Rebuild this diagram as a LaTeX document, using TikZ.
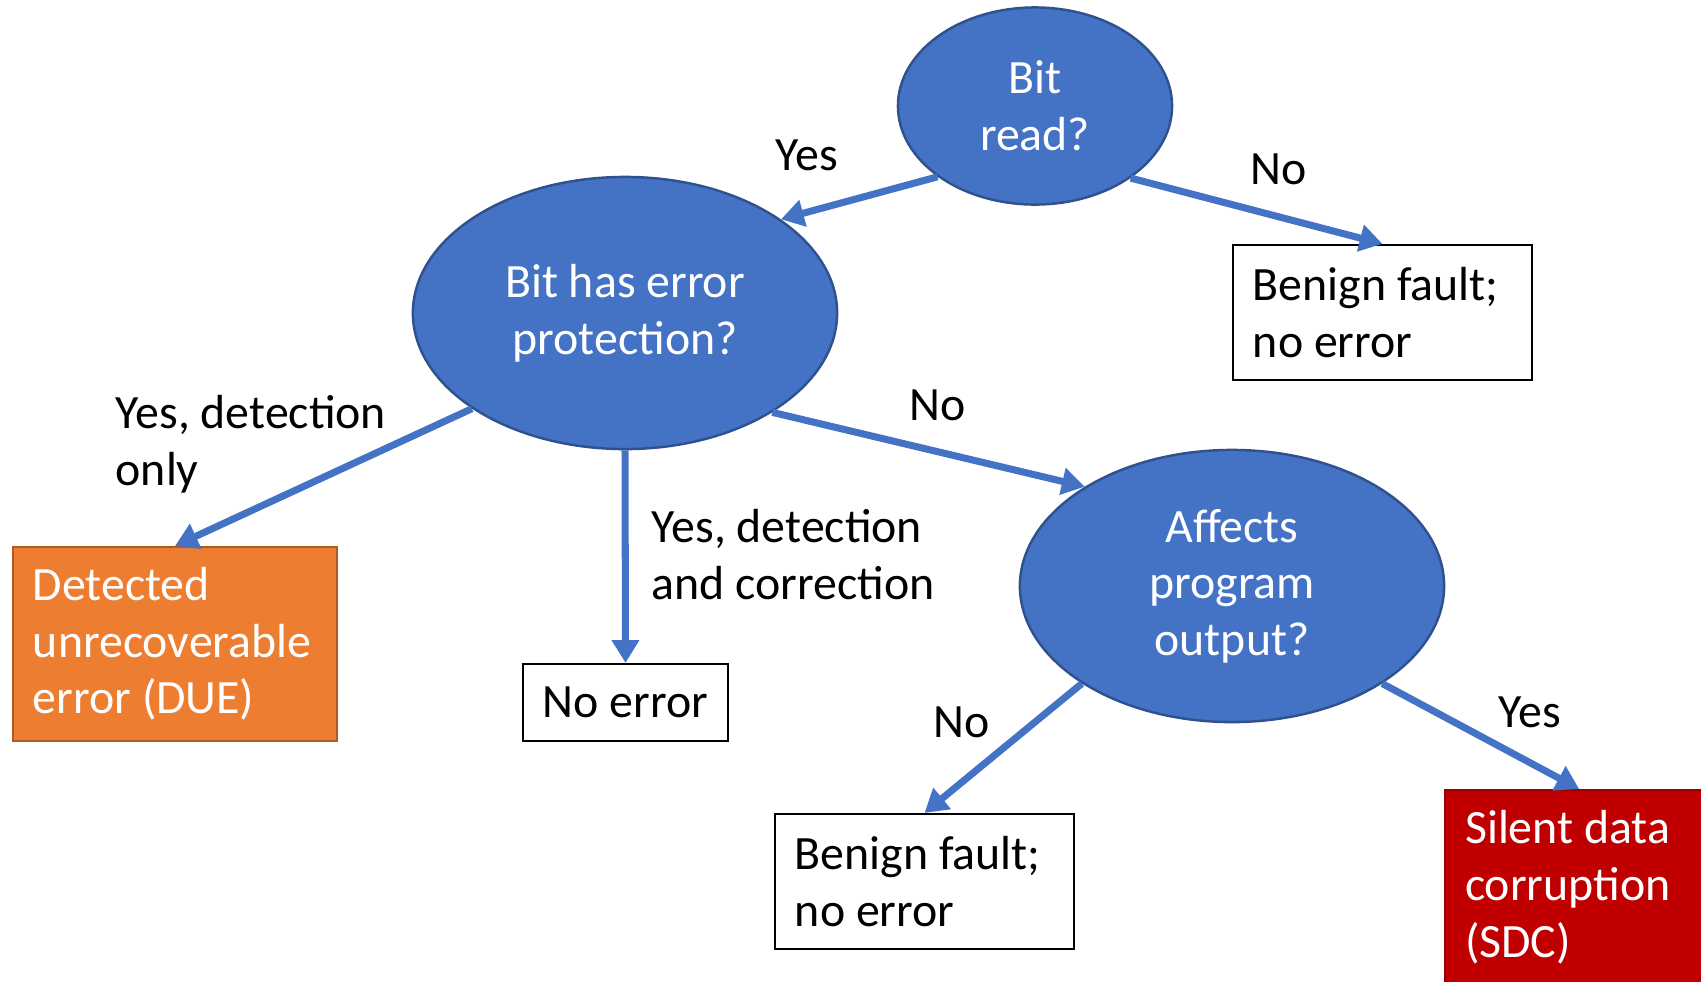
\documentclass[tikz,border=0pt]{standalone}
\usepackage{fontspec}
\setmainfont{Carlito}
\usepackage{tikz}
\usetikzlibrary{arrows.meta,shapes.geometric,positioning}
\definecolor{qblue}{HTML}{4472C4}
\definecolor{qblueline}{HTML}{2F528F}
\definecolor{qorange}{HTML}{ED7D31}
\definecolor{qorangeline}{HTML}{AE5A21}
\definecolor{qred}{HTML}{C00000}
\tikzset{
  every node/.style={font=\fontsize{13.6}{16.1}\selectfont},
  question/.style={ellipse,draw=qblueline,line width=0.7pt,fill=qblue,text=white,align=center,inner sep=0pt},
  outbox/.style={rectangle,draw=black,line width=0.6pt,fill=white,align=flush left,inner sep=0pt},
  colbox/.style={rectangle,line width=0.6pt,text=white,align=flush left,inner sep=0pt,
    minimum width=3.24cm,minimum height=1.94cm,text width=2.84cm},
  flow/.style={qblue,line width=2pt,-{Triangle[length=6.5pt,width=7.5pt]}},
  lab/.style={anchor=base west,align=left,inner sep=0pt}
}
\begin{document}
\begin{tikzpicture}[x=0.01cm,y=-0.01cm]
\useasboundingbox (0,0) rectangle (1701,981);
\clip (0,0) rectangle (1701,981);
% questions
\node[question,minimum width=2.74cm,minimum height=1.97cm] (R) at (1035,106) {Bit\\read?};
\node[question,minimum width=4.24cm,minimum height=2.72cm] (P) at (625,313) {Bit has error\\protection?};
\node[question,minimum width=4.24cm,minimum height=2.72cm] (A) at (1232,586) {Affects\\program\\output?};
% outcomes
\node[outbox,minimum width=2.99cm,minimum height=1.35cm,text width=2.59cm] (B1) at (1382.5,312.5) {Benign fault;\\no error};
\node[outbox,minimum width=2.05cm,minimum height=0.77cm,align=center] (N) at (625.5,702.5) {No error};
\node[outbox,minimum width=2.99cm,minimum height=1.35cm,text width=2.59cm] (B2) at (924.5,881.5) {Benign fault;\\no error};
\node[colbox,fill=qorange,draw=qorangeline] (D) at (175,644) {Detected\\unrecoverable\\error (DUE)};
\node[colbox,fill=qred,draw=qred!80!black,anchor=north west,minimum width=2.68cm,text width=2.28cm] (S) at (1444,789) {Silent data\\corruption\\(SDC)};
% connectors
\draw[flow] (R.216.8) -- (P.31.8);
\draw[flow] (R.323.8) -- (B1.north);
\draw[flow] (P.212.9) -- (D.north);
\draw[flow] (P.south) -- (N.north);
\draw[flow] (P.326.6) -- (A.146.8);
\draw[flow] (A.213) -- (B2.north);
\draw[flow] (A.327) -- (S.north);
% labels
\node[lab] (l1) at (775,170) {Yes};
\node[lab] (l2) at (1250,184) {No};
\node[lab] (l3) at (115,485) {Yes, detection\\only};
\node[lab] (l4) at (909,420) {No};
\node[lab] (l5) at (651,599) {Yes, detection\\and correction};
\node[lab] (l6) at (933,737) {No};
\node[lab] (l7) at (1498,727) {Yes};
\end{tikzpicture}
\end{document}
